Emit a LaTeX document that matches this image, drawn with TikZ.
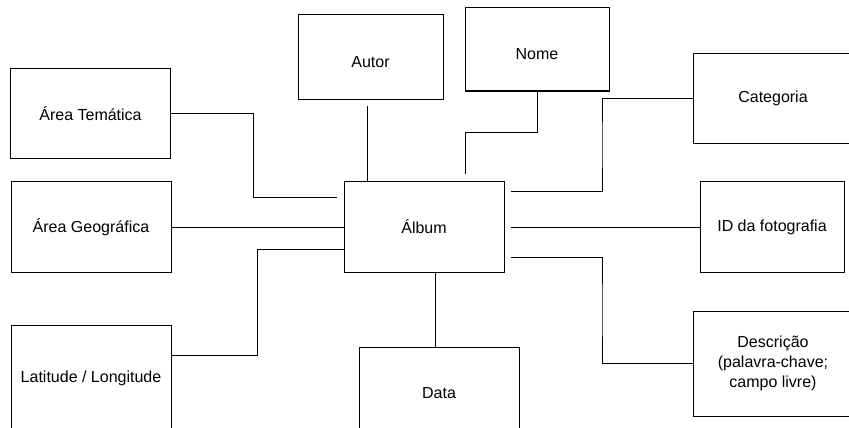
\documentclass[tikz,border=0pt]{standalone}
\usepackage{fontspec}
\setmainfont{Liberation Sans}
\usepackage{tikz}
\usetikzlibrary{positioning, calc}

\begin{document}
\begin{tikzpicture}[x=0.75pt, y=-0.75pt, line width=0.75pt,
  font=\fontsize{12}{15}\selectfont,
  attr/.style={draw, rectangle, align=center, inner sep=0pt, outer sep=0pt,
    minimum width=120pt, minimum height=68pt},
  hvh/.style={to path={-| ($(\tikztostart)!.5!(\tikztotarget)$) |- (\tikztotarget)}},
  vhv/.style={to path={|- ($(\tikztostart)!.5!(\tikztotarget)$) -| (\tikztotarget)}}]
  % page frame, boxes at the right and bottom run off the page
  \useasboundingbox (0,0) rectangle (849,428);
  \clip (0,0) rectangle (849,428);

  % central entity
  \node[attr] (album) at (424,227) {Álbum};

  % attributes, left column
  \node[attr] (tema) at (90.5,113.5) {Área Temática};
  \node[attr] (geo) at (91,227) {Área Geográfica};
  \node[attr, minimum height=79.5pt] (latlong) at (91,378) {Latitude / Longitude};

  % attributes, top and bottom (text sits a bit low in these two)
  \node[attr, minimum width=108.75pt, minimum height=63pt, text height=16pt] (autor)
    at (370.5,57) {Autor};
  \node[attr, minimum width=108pt, minimum height=62.25pt, text height=15.4pt] (nome)
    at (537,49.5) {Nome};
  \node[attr] (data) at (439,393) {Data};

  % attributes, right column
  \node[attr] (categoria) at (773,98.5) {Categoria};
  \node[attr, minimum width=108pt] (foto) at (772,227) {ID da fotografia};
  \node[attr, minimum height=78.75pt] (descricao) at (773,363.5)
    {Descrição\\(palavra-chave;\\campo livre)};

  % loose ends of the links (they stop short of the boxes)
  \coordinate (temaEnd) at (337,197);
  \coordinate (autorTop) at (367,106);
  \coordinate (autorEnd) at (367,181);
  \coordinate (nomeEnd) at (465,174);
  \coordinate (catEnd) at (511,191);
  \coordinate (fotoStart) at (511,227);
  \coordinate (descStart) at (511,257);

  % links
  \draw (tema.east) to[hvh] (temaEnd);
  \draw (autorTop) -- (autorEnd);
  \draw (nome.south) to[vhv] (nomeEnd);
  \draw (categoria.west) to[hvh] (catEnd);
  \draw (geo.east) -- (album.west);
  \draw ($(latlong.north east)+(0,30)$) to[hvh] ($(album.west)+(0,22)$);
  \draw (fotoStart) -- (foto.west);
  \draw (descStart) to[hvh] (descricao.west);
  \draw ($(album.south)+(11,0)$) coordinate (dataTop) -- (dataTop |- data.north);
\end{tikzpicture}
\end{document}
